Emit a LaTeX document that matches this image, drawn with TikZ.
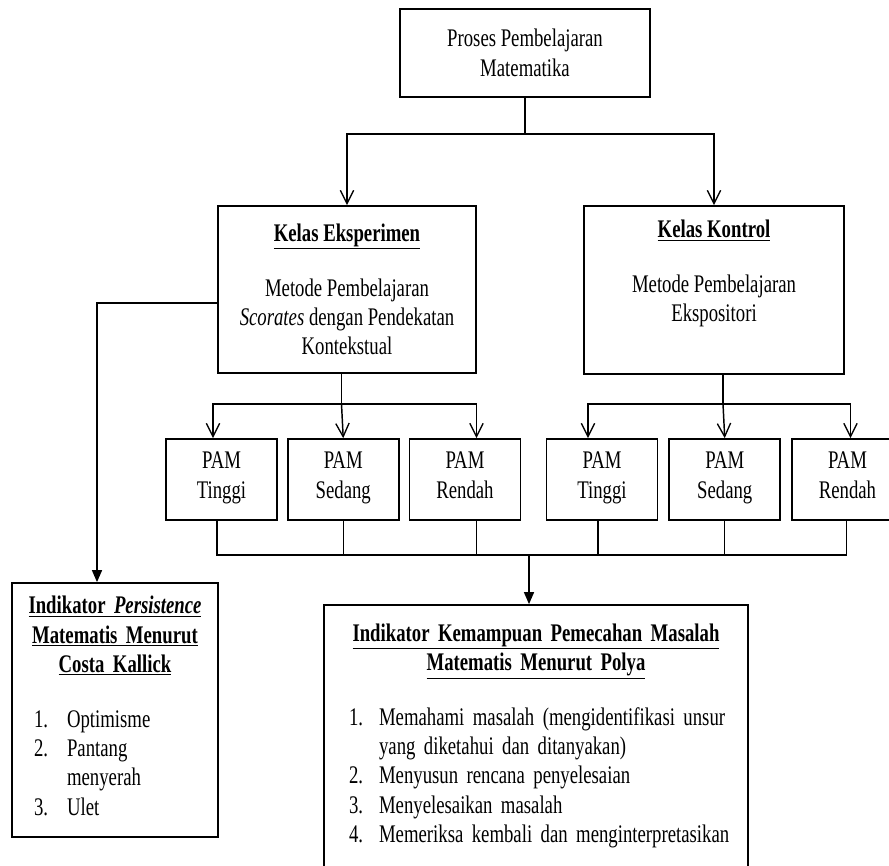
\documentclass[tikz,border=0pt]{standalone}
\usepackage{fontspec}
\setmainfont{Liberation Serif}[FakeStretch=0.74]
\usetikzlibrary{positioning, arrows.meta, calc}

\begin{document}
\begin{tikzpicture}[
    x=0.75pt, y=-0.75pt, % pixel grid of the reference
    line width=1.1pt,
    font=\fontsize{19}{22}\selectfont,
    arrow/.style={
        -{Straight Barb[length=10pt, width=10pt, line width=1pt]},
        line width=1.1pt
    },
    arrowfill/.style={
        -{Triangle[length=9pt, width=7.5pt]},
        line width=1.1pt
    },
    kelas/.style={
        rectangle,
        draw,
        line width=1.3pt,
        align=center,
        inner sep=0pt
    },
    pam/.style={
        rectangle,
        draw,
        line width=1.3pt,
        align=center,
        minimum width=83.25pt,
        minimum height=60.75pt,
        inner sep=0pt,
        execute at end node={\strut}
    },
    indikator/.style={
        rectangle,
        draw,
        line width=1.3pt,
        align=center,
        inner ysep=0pt
    }
]
    \useasboundingbox (0,0) rectangle (889,866);
    \clip (0,0) rectangle (889,866);

    \node[kelas, minimum width=187.5pt, minimum height=66pt] (proses) at (525,53) {Proses Pembelajaran\\ Matematika};

    % Kelas Eksperimen / Kontrol
    \node[kelas, minimum width=193.5pt, minimum height=125.25pt] (eksp) at (347,289.5)
        {\underline{\textbf{Kelas Eksperimen}}\\[19pt] Metode Pembelajaran\\ \textit{Scorates} dengan Pendekatan\\ Kontekstual};
    \node[kelas, minimum width=195pt, minimum height=126pt] (kontrol) at (714,290)
        {\underline{\textbf{Kelas Kontrol}}\\[19pt] Metode Pembelajaran\\ Ekspositori\\ \strut};

    % PAM
    \node[pam] (pamA) at (221.5,479.5) {PAM\\ Tinggi};
    \node[pam, right=6.75pt of pamA] (pamB) {PAM\\ Sedang};
    \node[pam, right=6.75pt of pamB] (pamC) {PAM\\ Rendah};
    \node[pam] (pamD) at (602,479.5) {PAM\\ Tinggi};
    \node[pam, right=7.5pt of pamD] (pamE) {PAM\\ Sedang};
    \node[pam, right=7.5pt of pamE] (pamF) {PAM\\ Rendah};

    % Indikator
    \node[indikator, minimum height=190.5pt, text width=146.5pt, inner xsep=4pt] (persist) at (115,710)
        {\underline{\textbf{Indikator \textit{Persistence}}}\\ \underline{\textbf{Matematis Menurut}}\\ \underline{\textbf{Costa Kallick}}\\[19pt]
        \makebox[146.5pt][l]{\begin{tabular}[t]{@{\hspace{12.5pt}}l@{\hspace{14.25pt}}l@{}}
            1. & Optimisme\\ 2. & Pantang\\ & menyerah\\ 3. & Ulet
        \end{tabular}}};
    \node[indikator, minimum height=198.75pt, text width=302pt, inner xsep=8pt] (polya) at (536,737.5)
        {\underline{\textbf{Indikator Kemampuan Pemecahan Masalah}}\\ \underline{\textbf{Matematis Menurut Polya}}\\[19pt]
        \makebox[302pt][l]{\begin{tabular}[t]{@{\hspace{10.75pt}}l@{\hspace{12pt}}l@{}}
            1. & Memahami masalah (mengidentifikasi unsur\\
               & yang diketahui dan ditanyakan)\\
            2. & Menyusun rencana penyelesaian\\
            3. & Menyelesaikan masalah\\
            4. & Memeriksa kembali dan menginterpretasikan
        \end{tabular}}};

    \coordinate (split) at (525,134);
    \coordinate (fanE) at (341.5,404);
    \coordinate (fanK) at (723,404);
    \coordinate (merge) at (529,555);

    \draw (proses.south) -- (split);
    \draw[arrow] (split) -| (eksp.north);
    \draw[arrow] (split) -| (kontrol.north);

    \draw (eksp.south -| fanE) -- (fanE);
    \draw[arrow] (fanE) -| ($(pamA.north)+(-8.5,0)$);
    \draw[arrow] (fanE) -- (pamB.north);
    \draw[arrow] (fanE) -| ($(pamC.north)+(11.5,0)$);

    \draw (kontrol.south -| fanK) -- (fanK);
    \draw[arrow] (fanK) -| ($(pamD.north)+(-14,0)$);
    \draw[arrow] (fanK) -- (pamE.north);
    \draw[arrow] (fanK) -| ($(pamF.north)+(3,0)$);

    \draw[line width=0.9pt] ($(pamA.south)+(-4.5,0)$) |- (merge) -| ($(pamF.south)+(-1,0)$);
    \draw[line width=0.9pt] (pamB.south) -- (pamB.south |- merge);
    \draw[line width=0.9pt] ($(pamC.south)+(11.5,0)$) coordinate (c3) -- (c3 |- merge);
    \draw[line width=0.9pt] ($(pamD.south)+(-4,0)$) coordinate (d1) -- (d1 |- merge);
    \draw[line width=0.9pt] (pamE.south) -- (pamE.south |- merge);
    \draw[arrowfill] (merge) -- (merge |- polya.north);

    \draw[arrowfill] ($(eksp.west)+(0,13.5)$) -| ($(persist.north)+(-18,0)$);
\end{tikzpicture}
\end{document}
